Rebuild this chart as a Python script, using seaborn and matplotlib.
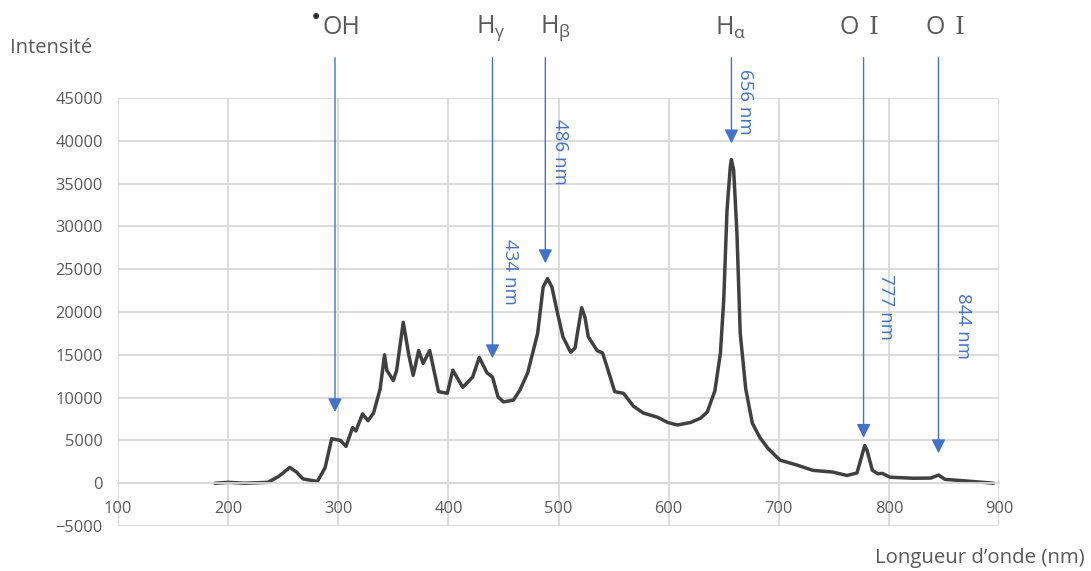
import numpy as np
import matplotlib
matplotlib.use('Agg')
import matplotlib.pyplot as plt
import seaborn as sns
import pandas as pd

# spectre d'emission
wl = [188, 200, 215, 236, 246, 256, 262, 268, 281, 288, 294, 302, 307, 313, 316,
      322, 327, 332, 338, 342, 344, 350, 353, 359, 364, 368, 373, 377, 383, 391,
      399, 404, 413, 422, 428, 435, 440, 445, 450, 459, 465, 472, 481, 486, 490,
      494, 499, 504, 511, 515, 518, 521, 524, 527, 535, 540, 544, 551, 559, 568,
      577, 590, 599, 608, 620, 629, 635, 642, 647, 650, 653, 656, 657, 659, 662,
      665, 670, 676, 683, 690, 701, 717, 731, 749, 762, 771, 775, 778, 780, 785,
      790, 794, 801, 822, 838, 845, 851, 871, 895]
intens = [0, 100, 0, 100, 800, 1850, 1300, 500, 200, 1800, 5200, 5000, 4300, 6500, 6100,
          8100, 7300, 8200, 11000, 15000, 13200, 12000, 13200, 18800, 15000, 12600, 15500, 14000, 15500, 10700,
          10500, 13200, 11200, 12400, 14700, 12900, 12400, 10100, 9500, 9700, 10900, 12900, 17500, 22900, 23900,
          22900, 19900, 17100, 15300, 15800, 18200, 20500, 19400, 17100, 15500, 15200, 13600, 10700, 10500, 9000,
          8200, 7700, 7100, 6800, 7100, 7600, 8300, 10800, 15200, 21400, 31900, 37000, 37800, 36600, 29200,
          17500, 11000, 7000, 5300, 4100, 2700, 2100, 1500, 1300, 900, 1200, 3000, 4400, 3900, 1500,
          1100, 1150, 700, 580, 600, 950, 450, 250, 0]

# raies identifiees
line_x = [297, 440, 488, 657, 777, 845]
line_tip = [8300, 14600, 25700, 39700, 5300, 3500]
nm_text = ['', '434 nm', '486 nm', '656 nm', '777 nm', '844 nm']
nm_pos = [(0, 0), (456, 24700), (501, 38700), (669, 44500), (797, 20600), (867, 18400)]
species = ['OH', r'H$_{\mathrm{\gamma}}$', r'H$_{\mathrm{\beta}}$',
           r'H$_{\mathrm{\alpha}}$', 'O', 'O']
species_x = [302.5, 438, 497, 656, 764, 842]

blue = '#4472C4'
grey = '#595959'

df = pd.DataFrame({'wl': wl, 'I': intens})

sns.set_style('white')
plt.rcParams['font.family'] = ['Open Sans', 'DejaVu Sans']
plt.rcParams['mathtext.fontset'] = 'custom'
plt.rcParams['mathtext.rm'] = 'Open Sans'
plt.rcParams['mathtext.it'] = 'Open Sans:italic'

fig = plt.figure(figsize=(10.91, 5.71), dpi=100)
ax = fig.add_axes([0.1082, 0.0788, 0.8075, 0.7496])

sns.lineplot(data=df, x='wl', y='I', color='#404040', lw=2.5, ax=ax)

ax.set_xlim(100, 900)
ax.set_ylim(-5000, 45000)
ax.set_xticks(range(100, 901, 100))
ax.set_yticks(range(-5000, 45001, 5000))
ax.grid(True, color='#d9d9d9', lw=1.3)
ax.set_axisbelow(True)
for s in ['top', 'right', 'left']:
    ax.spines[s].set_visible(False)
ax.spines['bottom'].set_position(('data', 0))
ax.spines['bottom'].set_color('#d9d9d9')
ax.spines['bottom'].set_linewidth(1.3)
ax.tick_params(length=0, labelsize=11.8, labelcolor=grey)
ax.tick_params(axis='y', pad=11)
ax.tick_params(axis='x', pad=13)
ax.set_xlabel('')
ax.set_ylabel('')

# fleches et longueurs d'onde
for x, tip in zip(line_x, line_tip):
    ax.annotate('', xy=(x, tip), xytext=(x, 49700),
                arrowprops=dict(arrowstyle='-|>,head_length=0.6,head_width=0.3',
                                color=blue, lw=1, mutation_scale=14,
                                shrinkA=0, shrinkB=0),
                annotation_clip=False)
for t, (x, y) in zip(nm_text, nm_pos):
    if t:
        ax.text(x, y, t, rotation=-90, color=blue, fontsize=13.5,
                ha='center', va='center')

for t, x in zip(species, species_x):
    ax.text(x, 53200, t, color=grey, fontsize=18, ha='center', va='center', clip_on=False)
    if t == 'O':
        ax.text(x + 22, 53200, 'I', color=grey, fontsize=18, ha='center', va='center',
                family='DejaVu Serif', clip_on=False)
# point du radical
ax.text(280, 54300, '•', color='#303030', fontsize=15, ha='center', va='center',
        family='DejaVu Sans', clip_on=False)

fig.text(10 / 1091, 1 - 48 / 571, 'Intensité', color=grey, fontsize=14.5, va='center')
fig.text(1085 / 1091, 1 - 558 / 571, 'Longueur d’onde (nm)', color=grey, fontsize=14.7,
         ha='right', va='center')

plt.savefig('out.png', dpi=100)
